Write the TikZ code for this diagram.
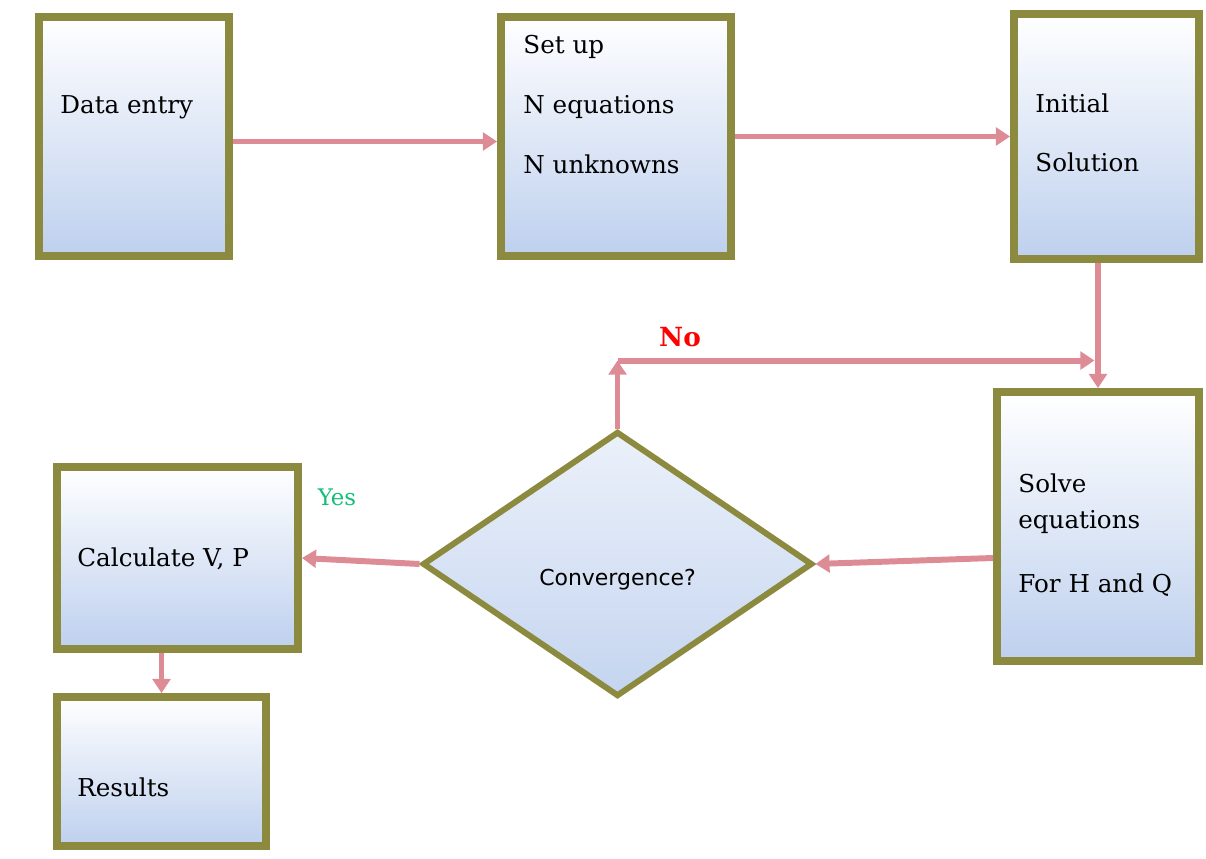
\documentclass[tikz,border=0pt]{standalone}
\usepackage{fontspec}
\setmainfont{DejaVu Serif}
\newfontfamily\convfont{DejaVu Sans}
\usetikzlibrary{shapes.geometric, arrows.meta}
\usetikzlibrary{positioning}
\definecolor{olivebd}{RGB}{140,138,62}
\definecolor{paleblue}{RGB}{190,208,238}
\definecolor{pinkflow}{RGB}{221,140,150}
\definecolor{yesgreen}{RGB}{20,190,120}
\def\pb{paleblue}
\tikzstyle{stepbox} = [rectangle, draw=olivebd, line width=4.5pt, top color=white, bottom color=\pb, inner sep=0pt]
\tikzstyle{decision} = [diamond, draw=olivebd, line width=3.4pt, top color=\pb!30, bottom color=\pb!90, inner sep=0pt,
                        font=\convfont\fontsize{12.5}{15}\selectfont]
\tikzstyle{boxtext} = [anchor=north west, align=left, inner sep=0pt, font=\fontsize{14}{17}\selectfont]
\tikzstyle{flow} = [->, draw=pinkflow, line width=3.4pt]

\begin{document}
\begin{tikzpicture}[>={Triangle[width=10pt,length=8pt]}]
  \useasboundingbox (0,0) rectangle (24.12,17.16);

  % top row
  \node (data)  [stepbox, minimum width=3.8cm, minimum height=4.78cm] at (2.68,14.43) {};
  \node (setup) [stepbox, minimum width=4.6cm, minimum height=4.78cm] at (12.32,14.43) {};
  \node (init)  [stepbox, minimum width=3.7cm, minimum height=4.9cm] at (22.13,14.43) {};

  % lower part
  \node (solve) [stepbox, minimum width=4.04cm, minimum height=5.38cm] at (21.96,6.63) {};
  \node (conv)  [decision, minimum width=7.8cm, minimum height=5.3cm] at (12.35,5.88)
        {\raisebox{-12pt}[0pt][0pt]{Convergence?}};
  \node (calc)  [stepbox, minimum width=4.82cm, minimum height=3.64cm] at (3.55,6.00) {};
  \node (res)   [stepbox, minimum width=4.18cm, minimum height=2.98cm] at (3.23,1.73) {};

  \node (datatxt)  [boxtext] at ([xshift=0.50cm,yshift=-1.64cm]data.north west) {Data entry};
  \node (setuptxt) [boxtext] at ([xshift=0.52cm,yshift=-0.44cm]setup.north west)
        {Set up\\[17pt]N equations\\[17pt]N unknowns};
  \node (inittxt)  [boxtext] at ([xshift=0.50cm,yshift=-1.66cm]init.north west) {Initial\\[17pt]Solution};
  \node (solvetxt) [boxtext] at ([xshift=0.50cm,yshift=-1.70cm]solve.north west)
        {Solve\\[4pt]equations\\[19pt]For H and Q};
  \node (calctxt)  [boxtext] at ([xshift=0.48cm,yshift=-1.68cm]calc.north west) {Calculate V, P};
  \node (restxt)   [boxtext] at ([xshift=0.48cm,yshift=-1.68cm]res.north west) {Results};

  \coordinate (noturn) at ([yshift=1.36cm]conv.north);
  \coordinate (nojoin) at (solve.north |- noturn);

  \node (no)  [font=\bfseries\fontsize{15}{18}\selectfont, text=red] at ([xshift=1.25cm,yshift=0.47cm]noturn) {No};
  \node (yes) [font=\fontsize{13}{15}\selectfont, text=yesgreen] at ([xshift=0.70cm,yshift=-0.68cm]calc.north east) {Yes};

  \draw [flow] ([yshift=-0.1cm]data.east) -- ([yshift=-0.1cm]setup.west);
  \draw [flow] (setup) -- (init);
  \draw [flow] (solve.north |- init.south) -- (solve.north);
  \draw [flow] (solve.west |- calc.east) -- (conv.east);
  \draw [flow] (conv.west) -- (calc.east);
  \draw [flow] (conv.north) -- (noturn);
  \draw [flow, shorten >=2pt] (noturn) -- (nojoin);
  \draw [flow] (res.north |- calc.south) -- (res.north);

\end{tikzpicture}
\end{document}
